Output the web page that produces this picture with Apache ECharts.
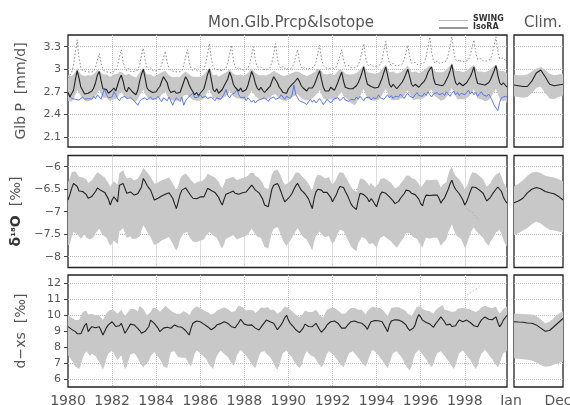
<!DOCTYPE html>
<html>
<head>
<meta charset="utf-8">
<script src="https://cdn.jsdelivr.net/npm/echarts@6/dist/echarts.min.js"></script>
<style>
  html, body { margin: 0; padding: 0; background: #fff; }
  #chart { width: 570px; height: 405px; }
</style>
</head>
<body>
<div id="chart"></div>
<script>
// monthly values, Jan 1980 .. Dec 1999 (one row per year)
const P_ISORA = [
  2.69,2.63,2.65,2.72,2.86,2.98,2.88,2.76,2.72,2.67,2.65,2.68,
  2.66,2.71,2.75,2.82,2.92,2.97,2.85,2.74,2.76,2.73,2.68,2.66,
  2.72,2.75,2.71,2.79,2.87,2.92,2.84,2.73,2.70,2.76,2.73,2.70,
  2.68,2.66,2.72,2.84,2.93,3.00,2.88,2.75,2.72,2.74,2.69,2.67,
  2.70,2.74,2.77,2.84,2.90,2.92,2.82,2.73,2.69,2.67,2.71,2.68,
  2.66,2.69,2.76,2.83,2.90,2.86,2.79,2.74,2.70,2.66,2.69,2.65,
  2.68,2.71,2.74,2.83,2.93,3.00,2.86,2.73,2.70,2.74,2.68,2.70,
  2.73,2.78,2.80,2.87,2.96,2.90,2.80,2.76,2.74,2.71,2.75,2.70,
  2.69,2.73,2.79,2.88,2.97,2.91,2.81,2.75,2.72,2.76,2.72,2.69,
  2.72,2.74,2.77,2.84,2.90,2.88,2.82,2.76,2.73,2.69,2.71,2.68,
  2.74,2.77,2.79,2.82,2.85,2.88,2.84,2.78,2.75,2.73,2.71,2.75,
  2.73,2.75,2.79,2.85,2.92,2.98,2.86,2.76,2.71,2.73,2.71,2.76,
  2.74,2.72,2.77,2.83,2.90,2.96,2.84,2.76,2.78,2.74,2.72,2.74,
  2.76,2.78,2.82,2.88,2.95,3.03,2.90,2.80,2.80,2.77,2.78,2.75,
  2.73,2.76,2.82,2.88,2.96,3.03,2.92,2.80,2.76,2.80,2.77,2.74,
  2.77,2.79,2.83,2.88,2.94,3.00,2.90,2.80,2.77,2.80,2.78,2.76,
  2.79,2.80,2.84,2.89,2.96,3.00,3.03,2.88,2.80,2.82,2.79,2.77,
  2.78,2.81,2.86,2.91,2.98,3.06,2.92,2.82,2.79,2.82,2.80,2.78,
  2.80,2.82,2.86,2.90,2.96,3.03,2.90,2.81,2.82,2.80,2.78,2.79,
  2.79,2.82,2.86,2.92,2.98,3.05,2.92,2.82,2.79,2.82,2.80,2.76
];
const P_HI = [
  2.92,2.90,2.91,2.93,2.96,3.01,2.97,2.93,2.92,2.91,2.90,2.92,
  2.91,2.92,2.94,2.96,2.99,3.00,2.96,2.93,2.94,2.93,2.91,2.90,
  2.92,2.93,2.91,2.94,2.97,2.98,2.95,2.92,2.91,2.94,2.93,2.91,
  2.90,2.89,2.92,2.96,2.99,3.02,2.97,2.93,2.91,2.93,2.91,2.90,
  2.91,2.93,2.94,2.96,2.98,2.98,2.95,2.92,2.90,2.89,2.91,2.90,
  2.89,2.90,2.93,2.95,2.97,2.96,2.93,2.91,2.90,2.88,2.90,2.89,
  2.90,2.92,2.93,2.96,2.99,3.02,2.97,2.92,2.91,2.93,2.90,2.91,
  2.93,2.95,2.96,2.98,3.00,2.97,2.94,2.93,2.92,2.91,2.93,2.91,
  2.91,2.93,2.95,2.98,3.01,2.98,2.95,2.93,2.92,2.94,2.92,2.91,
  2.92,2.93,2.94,2.96,2.98,2.97,2.95,2.93,2.92,2.90,2.91,2.90,
  2.93,2.94,2.95,2.96,2.97,2.98,2.96,2.94,2.93,2.92,2.91,2.93,
  2.93,2.94,2.96,2.98,3.01,3.03,2.98,2.94,2.92,2.93,2.92,2.94,
  2.93,2.92,2.95,2.97,3.00,3.02,2.97,2.94,2.95,2.93,2.92,2.93,
  2.94,2.95,2.97,2.99,3.02,3.06,3.00,2.96,2.96,2.95,2.96,2.94,
  2.93,2.95,2.97,3.00,3.03,3.06,3.01,2.96,2.95,2.97,2.95,2.94,
  2.95,2.96,2.98,3.00,3.02,3.05,3.00,2.96,2.95,2.97,2.96,2.95,
  2.96,2.97,2.99,3.01,3.03,3.05,3.06,3.00,2.97,2.98,2.96,2.95,
  2.96,2.97,2.99,3.02,3.04,3.08,3.02,2.98,2.96,2.98,2.97,2.96,
  2.97,2.98,3.00,3.02,3.04,3.06,3.01,2.97,2.98,2.97,2.96,2.96,
  2.96,2.98,3.00,3.02,3.05,3.07,3.02,2.98,2.96,2.98,2.97,2.95
];
const P_LO = [
  2.58,2.56,2.57,2.60,2.66,2.72,2.68,2.63,2.61,2.58,2.57,2.59,
  2.58,2.60,2.62,2.65,2.70,2.72,2.67,2.62,2.63,2.62,2.59,2.57,
  2.60,2.62,2.60,2.63,2.67,2.70,2.66,2.61,2.60,2.63,2.61,2.59,
  2.58,2.57,2.60,2.65,2.69,2.73,2.67,2.62,2.60,2.61,2.59,2.58,
  2.60,2.62,2.63,2.66,2.69,2.70,2.65,2.61,2.59,2.58,2.60,2.58,
  2.57,2.59,2.62,2.65,2.68,2.66,2.63,2.61,2.59,2.57,2.58,2.56,
  2.58,2.60,2.61,2.65,2.70,2.73,2.67,2.61,2.59,2.61,2.58,2.59,
  2.61,2.63,2.64,2.67,2.71,2.68,2.64,2.62,2.61,2.59,2.61,2.59,
  2.59,2.61,2.63,2.67,2.71,2.68,2.64,2.61,2.60,2.62,2.60,2.58,
  2.60,2.61,2.62,2.65,2.68,2.67,2.64,2.61,2.60,2.58,2.59,2.58,
  2.61,2.62,2.63,2.64,2.66,2.67,2.64,2.61,2.60,2.59,2.58,2.61,
  2.60,2.61,2.63,2.66,2.70,2.72,2.66,2.61,2.58,2.59,2.58,2.60,
  2.59,2.58,2.61,2.64,2.68,2.70,2.64,2.60,2.61,2.58,2.55,2.53,
  2.52,2.55,2.60,2.64,2.69,2.74,2.67,2.61,2.61,2.59,2.60,2.58,
  2.57,2.59,2.62,2.66,2.70,2.74,2.68,2.61,2.59,2.61,2.59,2.57,
  2.59,2.60,2.62,2.65,2.69,2.72,2.67,2.61,2.59,2.61,2.60,2.58,
  2.60,2.60,2.62,2.65,2.69,2.71,2.73,2.66,2.61,2.62,2.60,2.58,
  2.59,2.60,2.63,2.66,2.70,2.75,2.68,2.62,2.60,2.62,2.60,2.59,
  2.60,2.61,2.63,2.66,2.70,2.73,2.67,2.61,2.62,2.60,2.58,2.57,
  2.57,2.59,2.62,2.66,2.70,2.74,2.67,2.61,2.58,2.60,2.58,2.55
];
const P_SWING = [
  2.88,2.92,2.96,3.05,3.22,3.39,3.15,3.02,2.98,3.00,2.97,2.95,
  2.96,2.94,2.97,3.03,3.12,3.21,3.08,3.00,2.97,2.99,2.96,2.94,
  2.95,2.97,2.99,3.05,3.16,3.26,3.10,3.01,2.98,3.01,2.97,2.96,
  2.97,2.95,2.99,3.06,3.18,3.28,3.12,3.02,2.99,3.02,2.98,2.96,
  2.98,2.96,3.00,3.06,3.15,3.24,3.09,3.01,2.98,3.00,2.97,2.95,
  2.96,2.95,2.98,3.05,3.16,3.26,3.10,3.01,2.98,3.01,2.98,2.96,
  2.97,2.96,3.00,3.08,3.21,3.34,3.14,3.03,3.00,3.02,2.99,2.97,
  2.98,2.97,3.01,3.08,3.20,3.32,3.13,3.03,3.00,3.03,3.00,2.98,
  2.99,2.97,3.01,3.08,3.19,3.30,3.12,3.03,3.01,3.03,3.00,2.98,
  2.99,2.98,3.02,3.09,3.21,3.34,3.14,3.04,3.01,3.04,3.01,2.99,
  3.00,2.98,3.02,3.08,3.17,3.26,3.11,3.03,3.00,3.03,3.00,2.99,
  3.01,2.99,3.03,3.10,3.21,3.32,3.14,3.05,3.02,3.04,3.01,3.00,
  3.00,2.99,3.03,3.09,3.17,3.26,3.12,3.04,3.02,3.05,3.02,3.01,
  3.02,3.01,3.05,3.12,3.23,3.34,3.16,3.07,3.04,3.07,3.04,3.03,
  3.04,3.02,3.06,3.13,3.25,3.37,3.18,3.08,3.05,3.08,3.05,3.04,
  3.05,3.04,3.07,3.13,3.22,3.32,3.17,3.08,3.06,3.09,3.06,3.05,
  3.07,3.05,3.09,3.17,3.30,3.43,3.22,3.11,3.08,3.11,3.08,3.07,
  3.09,3.07,3.11,3.19,3.31,3.43,3.23,3.13,3.10,3.13,3.10,3.09,
  3.10,3.08,3.12,3.19,3.29,3.39,3.22,3.13,3.11,3.14,3.11,3.10,
  3.11,3.09,3.13,3.21,3.32,3.43,3.24,3.14,3.12,3.15,3.12,3.10
];
const P_OBS = [
  2.70,2.64,2.61,2.63,2.60,2.62,2.59,2.61,2.63,2.60,2.58,2.61,
  2.62,2.60,2.64,2.61,2.66,2.63,2.60,2.68,2.74,2.66,2.62,2.60,
  2.63,2.70,2.66,2.61,2.58,2.62,2.60,2.64,2.61,2.59,2.62,2.60,
  2.58,2.55,2.52,2.57,2.60,2.58,2.62,2.59,2.61,2.63,2.60,2.58,
  2.61,2.64,2.60,2.57,2.62,2.60,2.58,2.63,2.61,2.52,2.58,2.62,
  2.60,2.57,2.63,2.52,2.58,2.61,2.64,2.66,2.68,2.62,2.60,2.63,
  2.66,2.62,2.60,2.64,2.61,2.59,2.63,2.61,2.58,2.62,2.64,2.60,
  2.63,2.67,2.73,2.65,2.62,2.66,2.64,2.69,2.73,2.66,2.62,2.60,
  2.63,2.58,2.62,2.60,2.56,2.59,2.55,2.58,2.57,2.60,2.58,2.62,
  2.60,2.57,2.61,2.59,2.63,2.60,2.58,2.62,2.66,2.63,2.60,2.64,
  2.63,2.61,2.66,2.79,2.66,2.62,2.58,2.60,2.56,2.58,2.53,2.57,
  2.60,2.56,2.59,2.55,2.58,2.61,2.57,2.53,2.56,2.60,2.58,2.55,
  2.58,2.61,2.59,2.62,2.58,2.60,2.63,2.59,2.61,2.57,2.60,2.62,
  2.59,2.63,2.60,2.64,2.61,2.58,2.62,2.60,2.63,2.59,2.62,2.64,
  2.61,2.66,2.62,2.64,2.60,2.63,2.66,2.62,2.65,2.61,2.64,2.66,
  2.63,2.67,2.64,2.61,2.65,2.68,2.64,2.66,2.62,2.66,2.69,2.65,
  2.67,2.64,2.68,2.65,2.70,2.66,2.63,2.67,2.65,2.69,2.66,2.64,
  2.68,2.65,2.70,2.67,2.64,2.68,2.71,2.66,2.69,2.65,2.68,2.70,
  2.66,2.69,2.72,2.67,2.70,2.66,2.69,2.64,2.67,2.70,2.66,2.68,
  2.64,2.67,2.63,2.58,2.52,2.50,2.45,2.56,2.62,2.60,2.64,2.63
];
const D18O_ISORA = [
  -6.74,-6.62,-6.48,-6.37,-6.40,-6.44,-6.54,-6.58,-6.55,-6.52,-6.62,-6.70,
  -6.68,-6.66,-6.63,-6.55,-6.47,-6.46,-6.53,-6.55,-6.57,-6.60,-6.72,-6.85,
  -6.74,-6.67,-6.72,-6.78,-6.41,-6.40,-6.37,-6.48,-6.59,-6.58,-6.56,-6.60,
  -6.63,-6.62,-6.60,-6.59,-6.45,-6.26,-6.33,-6.41,-6.47,-6.52,-6.63,-6.74,
  -6.72,-6.70,-6.68,-6.65,-6.63,-6.61,-6.59,-6.58,-6.64,-6.70,-6.82,-6.93,
  -6.78,-6.62,-6.52,-6.49,-6.47,-6.46,-6.59,-6.65,-6.70,-6.74,-6.71,-6.68,
  -6.67,-6.67,-6.67,-6.58,-6.48,-6.50,-6.53,-6.55,-6.57,-6.59,-6.68,-6.78,
  -6.85,-6.72,-6.61,-6.60,-6.58,-6.56,-6.54,-6.59,-6.63,-6.61,-6.59,-6.58,
  -6.57,-6.56,-6.52,-6.46,-6.41,-6.46,-6.52,-6.56,-6.58,-6.59,-6.72,-6.85,
  -6.87,-6.89,-6.70,-6.50,-6.41,-6.39,-6.37,-6.45,-6.56,-6.68,-6.78,-6.81,
  -6.70,-6.65,-6.59,-6.50,-6.42,-6.37,-6.45,-6.52,-6.56,-6.60,-6.63,-6.72,
  -6.83,-6.93,-6.70,-6.56,-6.50,-6.46,-6.52,-6.57,-6.59,-6.57,-6.56,-6.68,
  -6.78,-6.70,-6.63,-6.52,-6.44,-6.45,-6.46,-6.55,-6.63,-6.72,-6.82,-6.88,
  -6.92,-6.95,-6.75,-6.59,-6.60,-6.62,-6.63,-6.70,-6.78,-6.71,-6.76,-6.83,
  -6.89,-6.75,-6.62,-6.56,-6.57,-6.59,-6.63,-6.67,-6.70,-6.76,-6.82,-6.85,
  -6.77,-6.70,-6.67,-6.60,-6.52,-6.50,-6.54,-6.59,-6.61,-6.62,-6.63,-6.72,
  -6.82,-6.87,-6.72,-6.63,-6.63,-6.64,-6.63,-6.63,-6.62,-6.63,-6.70,-6.81,
  -6.74,-6.69,-6.67,-6.50,-6.38,-6.30,-6.42,-6.50,-6.55,-6.60,-6.63,-6.74,
  -6.85,-6.78,-6.67,-6.55,-6.45,-6.41,-6.46,-6.50,-6.52,-6.55,-6.59,-6.68,
  -6.76,-6.78,-6.68,-6.61,-6.59,-6.50,-6.45,-6.44,-6.55,-6.67,-6.75,-6.81
];
const D18O_HI = [
  -6.35,-6.25,-6.12,-6.08,-6.10,-6.14,-6.22,-6.26,-6.24,-6.20,-6.28,-6.36,
  -6.34,-6.30,-6.26,-6.18,-6.12,-6.10,-6.18,-6.22,-6.24,-6.28,-6.36,-6.45,
  -6.38,-6.32,-6.36,-6.40,-6.14,-6.10,-6.08,-6.18,-6.26,-6.25,-6.24,-6.28,
  -6.30,-6.28,-6.26,-6.24,-6.12,-6.02,-6.06,-6.12,-6.16,-6.22,-6.30,-6.38,
  -6.37,-6.35,-6.33,-6.30,-6.28,-6.27,-6.25,-6.24,-6.30,-6.34,-6.44,-6.52,
  -6.42,-6.28,-6.20,-6.17,-6.15,-6.14,-6.24,-6.30,-6.34,-6.38,-6.36,-6.33,
  -6.32,-6.32,-6.31,-6.24,-6.15,-6.16,-6.20,-6.22,-6.24,-6.26,-6.33,-6.42,
  -6.48,-6.38,-6.28,-6.27,-6.25,-6.24,-6.22,-6.26,-6.30,-6.28,-6.26,-6.25,
  -6.24,-6.23,-6.20,-6.14,-6.10,-6.14,-6.20,-6.24,-6.25,-6.26,-6.36,-6.46,
  -6.48,-6.50,-6.34,-6.18,-6.10,-6.08,-6.06,-6.13,-6.22,-6.32,-6.40,-6.44,
  -6.36,-6.32,-6.27,-6.20,-6.12,-6.08,-6.14,-6.20,-6.24,-6.27,-6.30,-6.38,
  -6.46,-6.54,-6.36,-6.24,-6.18,-6.14,-6.20,-6.24,-6.26,-6.24,-6.23,-6.32,
  -6.40,-6.34,-6.28,-6.18,-6.12,-6.12,-6.14,-6.22,-6.28,-6.36,-6.44,-6.50,
  -6.54,-6.56,-6.40,-6.26,-6.27,-6.28,-6.30,-6.36,-6.42,-6.36,-6.40,-6.46,
  -6.50,-6.38,-6.28,-6.24,-6.25,-6.26,-6.30,-6.32,-6.36,-6.42,-6.48,-6.50,
  -6.44,-6.37,-6.34,-6.28,-6.20,-6.16,-6.20,-6.25,-6.27,-6.28,-6.29,-6.38,
  -6.46,-6.50,-6.36,-6.29,-6.29,-6.30,-6.29,-6.29,-6.28,-6.29,-6.36,-6.46,
  -6.40,-6.36,-6.34,-6.18,-6.06,-6.00,-6.12,-6.20,-6.24,-6.28,-6.30,-6.40,
  -6.50,-6.44,-6.34,-6.22,-6.12,-6.08,-6.14,-6.18,-6.20,-6.24,-6.28,-6.36,
  -6.44,-6.46,-6.36,-6.28,-6.26,-6.18,-6.14,-6.12,-6.22,-6.34,-6.42,-6.48
];
const D18O_LO = [
  -7.75,-7.72,-7.55,-7.45,-7.48,-7.50,-7.56,-7.60,-7.55,-7.50,-7.58,-7.66,
  -7.62,-7.60,-7.56,-7.48,-7.40,-7.38,-7.46,-7.52,-7.55,-7.58,-7.68,-7.76,
  -7.70,-7.64,-7.68,-7.72,-7.44,-7.38,-7.36,-7.48,-7.58,-7.56,-7.55,-7.60,
  -7.62,-7.60,-7.58,-7.55,-7.42,-7.30,-7.36,-7.44,-7.50,-7.56,-7.66,-7.74,
  -7.72,-7.70,-7.68,-7.64,-7.62,-7.60,-7.58,-7.56,-7.64,-7.70,-7.80,-7.86,
  -7.78,-7.62,-7.52,-7.48,-7.46,-7.45,-7.56,-7.62,-7.66,-7.70,-7.68,-7.65,
  -7.64,-7.64,-7.62,-7.54,-7.44,-7.45,-7.50,-7.53,-7.55,-7.58,-7.66,-7.76,
  -7.82,-7.72,-7.60,-7.58,-7.56,-7.55,-7.52,-7.58,-7.62,-7.60,-7.58,-7.56,
  -7.55,-7.54,-7.50,-7.44,-7.38,-7.44,-7.50,-7.55,-7.56,-7.58,-7.68,-7.78,
  -7.80,-7.82,-7.64,-7.46,-7.38,-7.36,-7.34,-7.42,-7.52,-7.64,-7.72,-7.76,
  -7.68,-7.64,-7.58,-7.50,-7.40,-7.36,-7.44,-7.50,-7.56,-7.60,-7.62,-7.70,
  -7.78,-7.86,-7.66,-7.54,-7.48,-7.44,-7.50,-7.55,-7.57,-7.55,-7.54,-7.64,
  -7.72,-7.66,-7.58,-7.48,-7.40,-7.40,-7.43,-7.52,-7.60,-7.68,-7.76,-7.82,
  -7.86,-7.88,-7.70,-7.55,-7.56,-7.58,-7.60,-7.66,-7.72,-7.66,-7.70,-7.76,
  -7.80,-7.68,-7.58,-7.52,-7.54,-7.56,-7.60,-7.62,-7.66,-7.72,-7.78,-7.80,
  -7.74,-7.66,-7.62,-7.56,-7.48,-7.44,-7.48,-7.54,-7.57,-7.58,-7.60,-7.68,
  -7.76,-7.80,-7.66,-7.58,-7.58,-7.60,-7.58,-7.58,-7.57,-7.58,-7.66,-7.76,
  -7.70,-7.66,-7.62,-7.46,-7.32,-7.28,-7.40,-7.50,-7.55,-7.58,-7.60,-7.70,
  -7.80,-7.74,-7.62,-7.50,-7.40,-7.35,-7.42,-7.46,-7.50,-7.54,-7.58,-7.66,
  -7.74,-7.76,-7.66,-7.56,-7.54,-7.46,-7.42,-7.40,-7.50,-7.62,-7.72,-7.78
];
const DXS_ISORA = [
  9.29,9.22,9.12,9.05,8.98,8.85,8.77,8.85,9.10,9.35,9.50,8.98,
  9.15,9.29,9.25,9.22,9.10,9.29,9.05,8.77,9.00,9.25,9.40,9.50,
  9.60,9.45,9.30,9.19,9.35,9.50,9.20,8.88,9.05,9.25,9.45,9.50,
  9.40,9.30,9.18,9.05,8.88,8.95,9.00,8.98,9.30,9.70,9.65,9.50,
  9.40,9.20,8.98,9.10,9.20,9.29,9.25,9.22,9.19,9.30,9.40,9.35,
  9.29,9.29,9.25,9.19,9.05,8.90,8.77,9.20,9.50,9.60,9.65,9.70,
  9.60,9.50,9.45,9.40,9.29,9.20,9.10,9.08,9.25,9.40,9.45,9.48,
  9.50,9.60,9.70,9.50,9.40,9.29,9.19,9.22,9.29,9.55,9.75,9.60,
  9.45,9.35,9.38,9.40,9.40,9.30,9.20,9.19,9.08,9.20,9.40,9.50,
  9.70,9.81,9.60,9.50,9.50,9.30,9.10,9.08,9.40,9.60,9.85,10.00,
  9.70,9.50,9.40,9.25,9.10,9.00,8.92,8.88,9.20,9.45,9.50,9.30,
  9.25,9.29,9.40,9.50,9.30,9.10,8.95,8.88,9.20,9.40,9.50,9.60,
  9.70,9.65,9.55,9.50,9.45,9.20,9.08,9.20,9.35,9.40,9.60,9.70,
  9.65,9.60,9.55,9.50,9.50,9.50,9.30,9.12,9.40,9.60,9.70,9.68,
  9.65,9.66,9.62,9.60,9.40,9.20,8.98,9.40,9.65,9.75,9.72,9.70,
  9.70,9.65,9.60,9.56,9.40,9.20,9.05,8.98,9.20,9.40,9.80,10.05,
  9.90,9.70,9.60,9.55,9.50,9.45,9.35,9.25,9.45,9.60,9.75,9.90,
  10.00,9.60,9.40,9.50,9.45,9.30,9.19,9.35,9.55,9.70,9.62,9.60,
  9.65,9.70,9.60,9.55,9.45,9.35,9.30,9.29,9.50,9.70,9.80,9.90,
  9.85,9.75,9.70,9.72,9.80,9.90,9.55,9.29,9.45,9.70,9.85,10.00
];
const DXS_HI = [
  10.00,9.95,9.85,9.75,9.70,9.65,9.70,9.95,10.20,10.25,10.30,10.05,
  10.00,10.10,10.05,10.00,9.90,10.00,9.85,9.70,9.90,10.15,10.25,10.35,
  10.40,10.30,10.20,10.10,10.20,10.35,10.15,9.95,10.05,10.25,10.40,10.50,
  10.40,10.30,10.25,10.60,10.65,10.40,10.20,10.00,10.10,10.20,10.45,10.55,
  10.45,10.35,10.20,10.30,10.45,10.60,10.50,10.40,10.30,10.20,10.15,10.10,
  10.05,10.10,10.20,10.25,10.20,10.15,10.00,10.20,10.40,10.50,10.55,10.50,
  10.45,10.35,10.30,10.30,10.20,10.10,10.05,10.00,10.15,10.30,10.35,10.40,
  10.40,10.50,10.55,10.40,10.30,10.20,10.15,10.25,10.45,10.60,10.65,10.50,
  10.40,10.30,10.25,10.35,10.40,10.30,10.15,10.20,10.35,10.50,10.55,10.45,
  10.40,10.50,10.35,10.30,10.35,10.25,10.10,10.00,10.25,10.40,10.55,10.60,
  10.45,10.35,10.25,10.15,10.05,9.95,9.90,9.85,10.10,10.30,10.35,10.20,
  10.15,10.20,10.30,10.35,10.20,10.00,9.90,9.85,10.15,10.35,10.40,10.45,
  10.50,10.45,10.35,10.30,10.25,10.10,10.00,10.10,10.25,10.30,10.45,10.50,
  10.45,10.40,10.35,10.35,10.35,10.20,10.05,10.25,10.40,10.50,10.55,10.50,
  10.45,10.50,10.45,10.40,10.25,10.10,9.95,10.20,10.45,10.55,10.50,10.50,
  10.50,10.45,10.40,10.35,10.25,10.10,10.00,9.95,10.15,10.35,10.55,10.65,
  10.55,10.40,10.35,10.30,10.30,10.25,10.20,10.10,10.30,10.40,10.50,10.60,
  10.65,10.35,10.25,10.30,10.30,10.20,10.10,10.25,10.40,10.50,10.45,10.40,
  10.45,10.50,10.40,10.35,10.30,10.25,10.20,10.20,10.35,10.50,10.55,10.60,
  10.55,10.50,10.45,10.45,10.50,10.55,10.30,10.10,10.25,10.40,10.50,10.55
];
const DXS_LO = [
  7.50,7.35,7.20,7.00,6.80,6.60,6.65,6.90,7.30,7.60,7.75,7.40,
  7.45,7.60,7.55,7.45,7.25,7.10,6.85,6.60,6.90,7.35,7.60,7.75,
  7.80,7.60,7.40,7.20,7.35,7.50,7.05,6.65,6.80,7.20,7.55,7.70,
  7.65,7.50,7.30,7.10,6.90,6.75,6.90,7.05,7.15,7.45,7.80,7.70,
  7.55,7.40,7.25,7.05,6.80,6.65,6.70,7.20,7.70,7.85,7.75,7.55,
  7.40,7.30,7.35,7.45,7.35,7.15,6.95,6.80,7.20,7.60,7.80,7.75,
  7.65,7.50,7.40,7.30,7.10,6.90,6.70,6.65,7.10,7.45,7.70,7.80,
  7.70,7.60,7.50,7.40,7.20,7.00,6.85,7.10,7.50,7.75,7.85,7.70,
  7.60,7.45,7.30,7.15,6.95,6.75,6.70,7.05,7.45,7.70,7.80,7.75,
  7.60,7.50,7.40,7.20,7.00,6.75,6.60,6.90,7.30,7.65,7.85,7.80,
  7.65,7.50,7.35,7.15,6.95,6.80,6.70,6.85,7.20,7.55,7.75,7.60,
  7.50,7.45,7.40,7.25,7.05,6.85,6.75,6.90,7.25,7.60,7.75,7.70,
  7.60,7.45,7.30,7.15,6.95,6.80,6.75,7.00,7.35,7.65,7.80,7.75,
  7.60,7.50,7.35,7.20,7.00,6.85,6.80,7.05,7.40,7.70,7.85,7.75,
  7.65,7.50,7.35,7.20,7.00,6.80,6.70,6.95,7.35,7.65,7.80,7.75,
  7.60,7.45,7.30,7.10,6.85,6.65,6.55,6.80,7.25,7.60,7.80,7.85,
  7.70,7.55,7.40,7.25,7.05,6.85,6.75,6.95,7.35,7.65,7.80,7.75,
  7.60,7.45,7.30,7.15,6.95,6.75,6.65,6.90,7.30,7.65,7.85,7.80,
  7.65,7.50,7.35,7.20,7.00,6.80,6.65,6.85,7.25,7.60,7.80,7.85,
  7.70,7.55,7.40,7.25,7.05,6.85,6.75,6.95,7.35,7.65,7.80,7.75
];
// short SWING fragments visible in the isotope panels (Jan 1998 onward)
const SWING_FRAG_START = 216;
const SWING_D18O_FRAG = [-6.86,-6.92,-6.98,-7.02,-7.00,-7.06,-7.12,-7.16,-7.18];
const SWING_DXS_FRAG = [11.10,11.22,11.35,11.30,11.45,11.58,11.52,11.68,11.80];

// climatology, Jan..Dec
const MONTHS = ['Jan','Feb','Mar','Apr','May','Jun','Jul','Aug','Sep','Oct','Nov','Dec'];
const CLIM_P = [2.79,2.78,2.77,2.77,2.84,2.95,2.99,2.90,2.80,2.78,2.79,2.80];
const CLIM_P_HI = [2.93,2.92,2.92,2.93,2.97,3.01,3.03,2.99,2.94,2.92,2.93,2.94];
const CLIM_P_LO = [2.64,2.63,2.62,2.63,2.68,2.75,2.77,2.68,2.61,2.60,2.63,2.65];
const CLIM_D18O = [-6.80,-6.76,-6.70,-6.58,-6.50,-6.46,-6.49,-6.55,-6.58,-6.60,-6.66,-6.74];
const CLIM_D18O_HI = [-6.44,-6.38,-6.30,-6.20,-6.13,-6.11,-6.14,-6.20,-6.22,-6.24,-6.28,-6.32];
const CLIM_D18O_LO = [-7.52,-7.48,-7.42,-7.36,-7.28,-7.22,-7.26,-7.34,-7.40,-7.42,-7.44,-7.46];
const CLIM_DXS = [9.60,9.58,9.57,9.52,9.50,9.40,9.20,9.00,9.05,9.30,9.55,9.80];
const CLIM_DXS_HI = [10.12,10.10,10.08,10.06,10.05,9.95,9.75,9.50,9.60,9.85,10.10,10.25];
const CLIM_DXS_LO = [7.31,7.28,7.25,7.22,7.18,7.05,6.90,6.79,6.82,6.92,7.02,7.10];

// tick labels
const YEARS = [1980,1981,1982,1983,1984,1985,1986,1987,1988,1989,
               1990,1991,1992,1993,1994,1995,1996,1997,1998,1999];
const P_TICKS = [2.1, 2.4, 2.7, 3, 3.3];
const D18O_TICKS = [-8, -7.5, -7, -6.5, -6];
const DXS_TICKS = [6, 7, 8, 9, 10, 11, 12];

const MONTH_CATS = [];
YEARS.forEach(y => MONTHS.forEach(m => MONTH_CATS.push(y + ' ' + m)));

const FONT = 'DejaVu Sans';
const TXT = '#555';
const BAND = '#c8c8c8';
const everyTwoYears = i => i % 24 === 0;

const ROWS = [
  { top: 35, min: 1.965, max: 3.455, ticks: P_TICKS, name: 'Glb P  [mm/d]' },
  { top: 155.5, min: -8.24, max: -5.75, ticks: D18O_TICKS, name: '{b|δ}{s|¹⁸}{b|O}  [‰]' },
  { top: 275, min: 5.52, max: 12.52, ticks: DXS_TICKS, name: 'd−xs  [‰]' },
];

const grids = [], xAxes = [], yAxes = [];
ROWS.forEach((r, k) => {
  grids.push({ left: 68, width: 439, top: r.top, height: 112, show: true, outerBoundsMode: 'none',
    borderColor: '#222', borderWidth: 1.3, backgroundColor: 'transparent' });
  grids.push({ left: 514, width: 49, top: r.top, height: 112, show: true, outerBoundsMode: 'none',
    borderColor: '#222', borderWidth: 1.3, backgroundColor: 'transparent' });
  const last = k === 2;
  xAxes.push({
    gridIndex: 2 * k, type: 'category', data: MONTH_CATS, boundaryGap: false,
    axisLine: { show: false },
    axisTick: { show: false },
    axisLabel: { show: last, interval: everyTwoYears, margin: 7, color: TXT, fontFamily: FONT, fontSize: 14,
      formatter: v => v.slice(0, 4) },
    splitLine: { show: true, interval: i => i % 24 === 0 && i > 0,
      lineStyle: { type: 'dotted', color: '#bbb', width: 1 } },
  });
  xAxes.push({
    gridIndex: 2 * k + 1, type: 'category', data: MONTHS, boundaryGap: false,
    axisLine: { show: false }, axisTick: { show: false },
    axisLabel: { show: last, interval: i => i === 0 || i === 11, margin: 7,
      color: TXT, fontFamily: FONT, fontSize: 14,
      formatter: v => (v === 'Jan' ? '{j|Jan}' : '{d|Dec}'),
      rich: {
        j: { color: TXT, fontFamily: FONT, fontSize: 14, padding: [0, 6, 0, 0] },
        d: { color: TXT, fontFamily: FONT, fontSize: 14, padding: [0, 10, 0, 0] },
      } },
    splitLine: { show: false },
  });
  const yBase = {
    type: 'value', min: r.min, max: r.max,
    axisLine: { show: false },
    splitLine: { show: true, lineStyle: { type: 'dotted', color: '#bbb', width: 1 } },
  };
  yAxes.push(Object.assign({}, yBase, {
    gridIndex: 2 * k,
    name: r.name, nameLocation: 'middle', nameRotate: 90, nameGap: 40,
    nameTextStyle: { color: TXT, fontFamily: FONT, fontSize: 14,
      rich: {
        b: { fontWeight: 'bold', color: '#333', fontFamily: FONT, fontSize: 14 },
        s: { fontWeight: 'bold', color: '#333', fontFamily: FONT, fontSize: 11 },
      } },
    axisTick: { show: true, length: 4, customValues: r.ticks, lineStyle: { color: '#444' } },
    axisLabel: { show: true, customValues: r.ticks, margin: 7, color: TXT, fontFamily: FONT, fontSize: 11,
      formatter: v => String(+v.toFixed(2)).replace('-', '−') },
  }));
  yAxes.push(Object.assign({}, yBase, {
    gridIndex: 2 * k + 1,
    axisTick: { show: false, customValues: r.ticks },
    axisLabel: { show: false, customValues: r.ticks },
  }));
});

function band(ax, lo, hi, stackId) {
  return [
    { type: 'line', xAxisIndex: ax, yAxisIndex: ax, stack: stackId, stackStrategy: 'all', data: lo,
      symbol: 'none', lineStyle: { opacity: 0 }, silent: true, z: 1 },
    { type: 'line', xAxisIndex: ax, yAxisIndex: ax, stack: stackId, stackStrategy: 'all',
      data: hi.map((h, i) => +(h - lo[i]).toFixed(3)), symbol: 'none',
      lineStyle: { opacity: 0 }, areaStyle: { color: BAND, opacity: 1 }, silent: true, z: 1 },
  ];
}
function line(ax, arr, color, width, type) {
  return { type: 'line', xAxisIndex: ax, yAxisIndex: ax, data: arr, symbol: 'none',
    lineStyle: { color, width, type: type || 'solid' }, silent: true, z: 3 };
}
function fragment(frag) {
  return MONTH_CATS.map((c, i) => {
    const j = i - SWING_FRAG_START;
    return j >= 0 && j < frag.length ? frag[j] : null;
  });
}

const series = [
  ...band(0, P_LO, P_HI, 'pb'),
  line(0, P_SWING, '#8c8c8c', 1, [1.5, 2]),
  line(0, P_OBS, '#5a78f0', 1),
  line(0, P_ISORA, '#222', 1.1),
  ...band(1, CLIM_P_LO, CLIM_P_HI, 'cpb'),
  line(1, CLIM_P, '#222', 1.1),
  ...band(2, D18O_LO, D18O_HI, 'ob'),
  line(2, fragment(SWING_D18O_FRAG), '#b0b0b0', 1, [1.5, 2]),
  line(2, D18O_ISORA, '#222', 1.1),
  ...band(3, CLIM_D18O_LO, CLIM_D18O_HI, 'cob'),
  line(3, CLIM_D18O, '#222', 1.1),
  ...band(4, DXS_LO, DXS_HI, 'db'),
  line(4, fragment(SWING_DXS_FRAG), '#c4c4c4', 1, [1.5, 2]),
  line(4, DXS_ISORA, '#222', 1.1),
  ...band(5, CLIM_DXS_LO, CLIM_DXS_HI, 'cdb'),
  line(5, CLIM_DXS, '#222', 1.1),
];

const chart = echarts.init(document.getElementById('chart'), null, { renderer: 'canvas' });
chart.setOption({
  animation: false,
  backgroundColor: '#fff',
  grid: grids,
  xAxis: xAxes,
  yAxis: yAxes,
  series,
  title: [
    { text: 'Mon.Glb.Prcp&Isotope', left: 286, top: 11, textAlign: 'center',
      textStyle: { color: TXT, fontFamily: FONT, fontSize: 15, fontWeight: 'normal' } },
    { text: 'Clim.', left: 538, top: 11, textAlign: 'center',
      textStyle: { color: TXT, fontFamily: FONT, fontSize: 15, fontWeight: 'normal' } },
  ],
  graphic: [
    { type: 'line', shape: { x1: 439, y1: 20.5, x2: 468, y2: 20.5 }, style: { stroke: '#bbb', lineWidth: 1 } },
    { type: 'line', shape: { x1: 439, y1: 28, x2: 468, y2: 28 }, style: { stroke: '#999', lineWidth: 2 } },
    { type: 'text', left: 473, top: 15, style: { text: 'SWING', fill: '#333', font: 'bold 8px "DejaVu Sans"' } },
    { type: 'text', left: 473, top: 23, style: { text: 'IsoRA', fill: '#333', font: 'bold 8px "DejaVu Sans"' } },
  ],
});
</script>
</body>
</html>
